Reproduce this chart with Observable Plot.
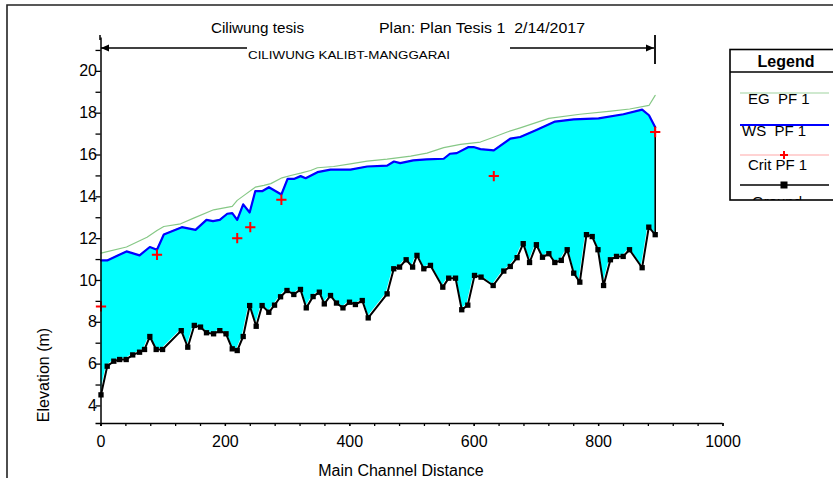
<!DOCTYPE html>
<html><head><meta charset="utf-8">
<script src="https://cdn.jsdelivr.net/npm/d3@7"></script>
<script src="https://cdn.jsdelivr.net/npm/@observablehq/plot@0.6"></script>
<style>
html,body{margin:0;padding:0;background:#fff;}
#wrap{position:relative;width:833px;height:478px;overflow:hidden;font-family:"Liberation Sans",Arial,sans-serif;}
#wrap > svg{position:absolute;left:0;top:0;}
</style></head><body><div id="wrap"></div>
<script>
// ---- Data ----
const groundDist = [0,10,20.6,30,40.5,51,62,70,78.5,88.7,99,129,139.5,150,160,169.6,181,191,201,211,219,228.6,239,249.5,259,269.8,279,288.7,299,310,320.7,330,341,351,359,369,378.6,389,399.5,409,420,429.6,460,470.7,480,490.6,501,508,519,529.7,549.5,559,570,580,589.7,600.5,611,630.5,647.6,658,669,678.8,689,700,709.8,720,729.6,740,749.5,760,769.8,780.5,789.7,799,808,819,828.8,839.5,849.7,870,880.7,891];
const groundElev = [4.53,5.9,6.14,6.22,6.22,6.44,6.57,6.7,7.32,6.7,6.7,7.6,6.81,7.85,7.77,7.5,7.45,7.6,7.45,6.73,6.65,7.32,8.8,7.81,8.8,8.48,8.82,9.22,9.52,9.33,9.57,8.69,9.23,9.44,8.88,9.28,8.92,8.69,8.96,8.85,9.04,8.21,9.36,10.56,10.64,10.99,10.64,11.2,10.56,10.72,9.68,10.11,10.11,8.6,8.82,10.24,10.16,9.76,10.45,10.67,11.09,11.76,10.86,11.71,11.11,11.28,10.86,10.96,11.47,10.35,9.92,12.19,12.1,11.47,9.76,10.99,11.15,11.15,11.47,10.61,12.55,12.19];

const wsDist = [0,10,41,62,78.5,90,101,130,152,169.6,180,191,203,211,219,228.6,239,248,259,270,290,300,311,321,329,348,369,401,428,460,471,481,502,523,551,561,572,591,599,610,631.5,658,674,700,730,760,800,840,870,881,891];
const wsElev = [10.96,10.96,11.39,11.2,11.6,11.47,12.2,12.55,12.42,12.9,12.84,12.9,13.19,13.22,12.9,13.64,13.25,14.27,14.27,14.46,14.11,14.86,14.86,14.99,14.89,15.18,15.3,15.3,15.45,15.49,15.69,15.61,15.74,15.79,15.82,16.06,16.09,16.38,16.38,16.28,16.22,16.78,16.86,17.2,17.6,17.7,17.75,17.95,18.17,17.9,17.33];

const egDist = [0,41,74,90,101,128,149,181,211,219,230,248,262,273,291,305,321,337,348,374,401,428,460,498,524,551,578,610,632,653,674,720,770,820,850,881,891];
const egElev = [11.31,11.6,12.07,12.39,12.58,12.71,12.98,13.38,13.54,13.83,14.07,14.46,14.55,14.63,14.91,15.02,15.13,15.26,15.39,15.45,15.58,15.71,15.8,15.95,16.09,16.35,16.51,16.62,16.86,17.1,17.3,17.75,17.95,18.1,18.2,18.37,18.85];

const critDist = [0,90,219,240,290,631.5,891];
const critElev = [8.76,11.23,12.02,12.55,13.86,14.99,17.1];

const xMajorTicks = [0,200,400,600,800,1000];
const yMajorTicks = [4,6,8,10,12,14,16,18,20];

const titleLeft = "Ciliwung tesis";
const titleRight = "Plan: Plan Tesis 1  2/14/2017";
const reachName = "CILIWUNG KALIBT-MANGGARAI";
const xLabel = "Main Channel Distance";
const yLabel = "Elevation (m)";
const legendTitle = "Legend";
const legendItems = ["EG  PF 1", "WS  PF 1", "Crit PF 1", "Ground"];

// ---- Build tables ----
const ground = groundDist.map((d,i)=>({d, e: groundElev[i]}));
const ws = wsDist.map((d,i)=>({d, e: wsElev[i]}));
const eg = egDist.map((d,i)=>({d, e: egElev[i]}));
const crit = critDist.map((d,i)=>({d, e: critElev[i]}));
const endRule = [{d: groundDist[groundDist.length-1], lo: groundElev[groundElev.length-1], hi: wsElev[wsElev.length-1]}];

const xDomain = [0,1000], yDomain = [3.16,21.6];
const xMinor = d3.range(0,1001,40);
const yMinor = d3.range(4,22,1);
const FONT = "Liberation Sans, Arial, sans-serif";

const chart = Plot.plot({
  width: 833, height: 478,
  marginLeft: 100.5, marginRight: 110.5, marginTop: 37.4, marginBottom: 55,
  style: {fontFamily: FONT, fontSize: "16px", color: "#000", background: "transparent"},
  x: {domain: xDomain},
  y: {domain: yDomain},
  marks: [
    Plot.areaY(ws, {x: "d", y1: yDomain[0], y2: "e", fill: "#00FFFF"}),
    Plot.areaY(ground, {x: "d", y1: yDomain[0], y2: "e", fill: "#FFFFFF", stroke: "#FFFFFF", strokeWidth: 2}),
    Plot.lineY(eg, {x: "d", y: "e", stroke: "#86c886", strokeWidth: 1.2}),
    Plot.lineY(ws, {x: "d", y: "e", stroke: "#0000FF", strokeWidth: 2.2}),
    Plot.ruleX(endRule, {x: "d", y1: "lo", y2: "hi", stroke: "#000", strokeWidth: 1.6}),
    Plot.lineY(ground, {x: "d", y: "e", stroke: "#000", strokeWidth: 2}),
    Plot.dot(ground, {x: "d", y: "e", symbol: "square", fill: "#000", r: 3}),
    Plot.dot(crit, {x: "d", y: "e", symbol: "plus", stroke: "#FF0000", strokeWidth: 2, r: 3.4}),
    Plot.ruleY([yDomain[0]], {stroke: "#000", strokeWidth: 1.5, insetLeft: -5}),
    Plot.ruleX([0], {stroke: "#000", strokeWidth: 1.5, insetBottom: -3}),
    Plot.axisX({ticks: xMinor, tickSize: 3, tickFormat: () => "", label: null, strokeWidth: 1.3}),
    Plot.axisX({ticks: xMajorTicks, tickSize: 3, tickPadding: 9, tickFormat: d3.format("d"), label: null, fontSize: 16, strokeWidth: 1.3}),
    Plot.axisY({ticks: yMinor, tickSize: 5, tickFormat: () => "", label: null, strokeWidth: 1.3}),
    Plot.axisY({ticks: yMajorTicks, tickSize: 0, tickPadding: 4, label: null, fontSize: 16})
  ]
});
document.getElementById("wrap").appendChild(chart);

// ---- Decorations overlay (frame, titles, reach arrow, legend) ----
const ov = d3.select("#wrap").append("svg").attr("width", 833).attr("height", 478)
  .style("font-family", FONT);
ov.append("path").attr("d", "M7,478V5H833").attr("fill", "none").attr("stroke", "#222").attr("stroke-width", 1.6);

ov.append("text").attr("x", 211).attr("y", 33).attr("font-size", 14).attr("textLength", 93).attr("lengthAdjust", "spacingAndGlyphs").text(titleLeft);
ov.append("text").attr("x", 379).attr("y", 33).attr("font-size", 14).attr("textLength", 206).attr("lengthAdjust", "spacingAndGlyphs").attr("xml:space", "preserve").style("white-space", "pre").text(titleRight);

// reach arrow
const ay = 48;
ov.append("line").attr("x1", 100).attr("x2", 100).attr("y1", 35).attr("y2", 40).attr("stroke", "#000").attr("stroke-width", 1.5);
ov.append("line").attr("x1", 655).attr("x2", 655).attr("y1", 35).attr("y2", 64).attr("stroke", "#000").attr("stroke-width", 1.8);
ov.append("line").attr("x1", 101).attr("x2", 247).attr("y1", ay).attr("y2", ay).attr("stroke", "#000").attr("stroke-width", 1.5);
ov.append("line").attr("x1", 510).attr("x2", 654).attr("y1", ay).attr("y2", ay).attr("stroke", "#000").attr("stroke-width", 1.5);
ov.append("path").attr("d", `M101,${ay}l8,-3.5v7z`).attr("fill", "#000");
ov.append("path").attr("d", `M654,${ay}l-8,-3.5v7z`).attr("fill", "#000");
ov.append("text").attr("x", 248).attr("y", 59).attr("font-size", 11.5).attr("textLength", 202).attr("lengthAdjust", "spacingAndGlyphs").text(reachName);

// axis titles
ov.append("text").attr("x", 401).attr("y", 476).attr("font-size", 16).attr("text-anchor", "middle").text(xLabel);
ov.append("text").attr("transform", "translate(49,375) rotate(-90)").attr("font-size", 16).attr("text-anchor", "middle").text(yLabel);

// legend
const lg = ov.append("g");
lg.append("clipPath").attr("id", "lgclip").append("rect").attr("x", 730).attr("y", 49.5).attr("width", 110).attr("height", 150.5);
lg.append("rect").attr("x", 730).attr("y", 49.5).attr("width", 120).attr("height", 150.5).attr("fill", "#fff").attr("stroke", "#000").attr("stroke-width", 1.6);
lg.append("text").attr("x", 786).attr("y", 67).attr("font-size", 16).attr("font-weight", "bold").attr("text-anchor", "middle").text(legendTitle);
lg.append("line").attr("x1", 730).attr("x2", 833).attr("y1", 72).attr("y2", 72).attr("stroke", "#000").attr("stroke-width", 1.4);
const items = lg.append("g").attr("clip-path", "url(#lgclip)");
const rows = [
  {y: 93, stroke: "#9fd49f", w: 1.2, ty: 104, tx: 748},
  {y: 125, stroke: "#0000FF", w: 2, ty: 136, tx: 742},
  {y: 155, stroke: "#ffa8a8", w: 1.2, ty: 170, tx: 748},
  {y: 185, stroke: "#000", w: 1.5, ty: 207, tx: 752}
];
rows.forEach((r, i) => {
  items.append("line").attr("x1", 740).attr("x2", 829).attr("y1", r.y).attr("y2", r.y).attr("stroke", r.stroke).attr("stroke-width", r.w);
  items.append("text").attr("x", r.tx).attr("y", r.ty).attr("font-size", 15).attr("xml:space", "preserve").style("white-space", "pre").text(legendItems[i]);
});
items.append("path").attr("d", "M784,151v8M780,155h8").attr("stroke", "#FF0000").attr("stroke-width", 2);
items.append("rect").attr("x", 780.5).attr("y", 181.5).attr("width", 7).attr("height", 7).attr("fill", "#000");
</script></body></html>
